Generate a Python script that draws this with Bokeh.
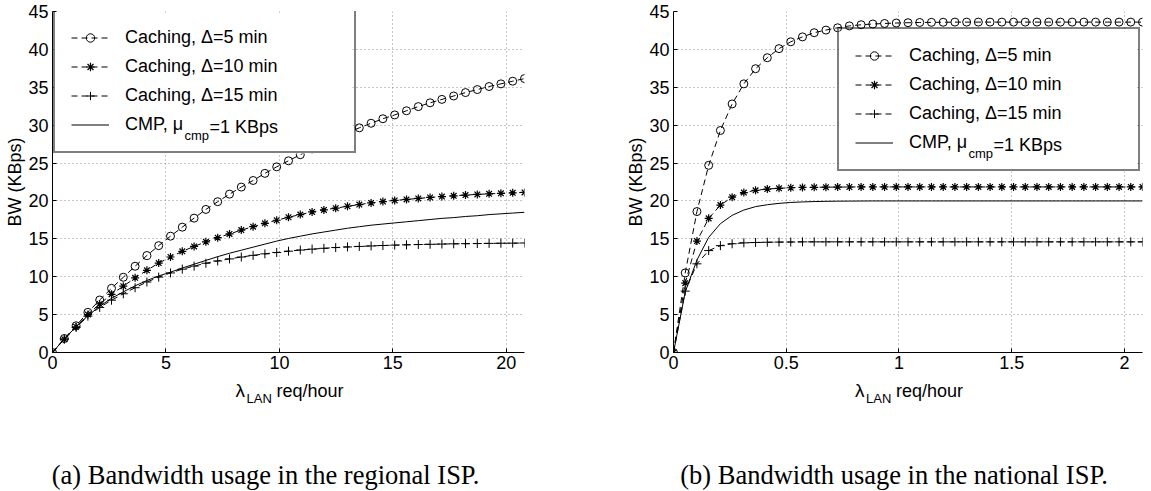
from bokeh.plotting import figure
from bokeh.layouts import row, column
from bokeh.models import (Range1d, FixedTicker, NumeralTickFormatter, Legend,
                          LegendItem, Label, BoxAnnotation)
from bokeh.embed import file_html
from bokeh.resources import INLINE

# ---------------------------------------------------------------- data
# request rate on the LAN (req/hour), regional ISP
lam_regional = [0, 0.52, 1.04, 1.56, 2.08, 2.6, 3.12, 3.64, 4.16, 4.68,
                5.2, 5.72, 6.24, 6.76, 7.28, 7.8, 8.32, 8.84, 9.36, 9.88,
                10.4, 10.92, 11.44, 11.96, 12.48, 13.0, 13.52, 14.04, 14.56, 15.08,
                15.6, 16.12, 16.64, 17.16, 17.68, 18.2, 18.72, 19.24, 19.76, 20.28,
                20.8]
# bandwidth (KBps), regional ISP
bw5_regional = [0, 1.85, 3.53, 5.3, 6.93, 8.47, 9.93, 11.38, 12.8, 14.1,
                15.35, 16.54, 17.73, 18.88, 19.9, 20.9, 21.83, 22.7, 23.64, 24.5,
                25.3, 26.1, 26.85, 27.6, 28.3, 29.0, 29.65, 30.25, 30.85, 31.35,
                31.9, 32.45, 32.95, 33.4, 33.85, 34.3, 34.7, 35.1, 35.45, 35.8,
                36.15]
bw10_regional = [0, 1.76, 3.4, 5.0, 6.4, 7.68, 8.75, 9.85, 10.85, 11.8,
                 12.6, 13.35, 14.0, 14.6, 15.15, 15.65, 16.15, 16.6, 17.05, 17.45,
                 17.85, 18.2, 18.55, 18.82, 19.05, 19.3, 19.52, 19.74, 19.92, 20.07,
                 20.2, 20.33, 20.46, 20.58, 20.68, 20.78, 20.86, 20.94, 21.0, 21.07,
                 21.13]
bw15_regional = [0, 1.76, 3.3, 4.8, 5.95, 6.9, 7.75, 8.55, 9.3, 9.95,
                 10.5, 11.0, 11.4, 11.78, 12.08, 12.35, 12.6, 12.82, 13.02, 13.2,
                 13.37, 13.52, 13.64, 13.75, 13.85, 13.93, 14.0, 14.06, 14.12, 14.17,
                 14.21, 14.25, 14.28, 14.31, 14.34, 14.36, 14.38, 14.4, 14.42, 14.43,
                 14.45]
cmp_regional = [0, 1.8, 3.4, 4.85, 6.1, 7.15, 8.0, 8.8, 9.5, 10.1,
                10.6, 11.15, 11.65, 12.15, 12.65, 13.1, 13.5, 13.9, 14.3, 14.7,
                15.05, 15.35, 15.65, 15.9, 16.15, 16.4, 16.6, 16.8, 16.95, 17.1,
                17.25, 17.4, 17.55, 17.7, 17.8, 17.95, 18.05, 18.2, 18.3, 18.4,
                18.5]

# request rate on the LAN (req/hour), national ISP
lam_national = [0, 0.052, 0.104, 0.156, 0.208, 0.26, 0.312, 0.364, 0.416, 0.468,
                0.52, 0.572, 0.624, 0.676, 0.728, 0.78, 0.832, 0.884, 0.936, 0.988,
                1.04, 1.092, 1.144, 1.196, 1.248, 1.3, 1.352, 1.404, 1.456, 1.508,
                1.56, 1.612, 1.664, 1.716, 1.768, 1.82, 1.872, 1.924, 1.976, 2.028,
                2.08]
# bandwidth (KBps), national ISP
bw5_national = [0, 10.5, 18.6, 24.7, 29.3, 32.8, 35.45, 37.45, 38.9, 40.1,
                41.0, 41.65, 42.2, 42.55, 42.85, 43.1, 43.25, 43.35, 43.42, 43.48,
                43.52, 43.55, 43.57, 43.58, 43.6, 43.6, 43.6, 43.6, 43.6, 43.6,
                43.6, 43.6, 43.6, 43.6, 43.6, 43.6, 43.6, 43.6, 43.6, 43.6,
                43.6]
bw10_national = [0, 9.15, 14.7, 17.7, 19.45, 20.5, 21.1, 21.4, 21.57, 21.67,
                 21.74, 21.78, 21.8, 21.82, 21.83, 21.84, 21.85, 21.85, 21.85, 21.85,
                 21.85, 21.85, 21.85, 21.85, 21.85, 21.85, 21.85, 21.85, 21.85, 21.85,
                 21.85, 21.85, 21.85, 21.85, 21.85, 21.85, 21.85, 21.85, 21.85, 21.85,
                 21.85]
bw15_national = [0, 8.1, 11.7, 13.45, 14.1, 14.35, 14.47, 14.52, 14.55, 14.57,
                 14.58, 14.6, 14.6, 14.6, 14.6, 14.6, 14.6, 14.6, 14.6, 14.6,
                 14.6, 14.6, 14.6, 14.6, 14.6, 14.6, 14.6, 14.6, 14.6, 14.6,
                 14.6, 14.6, 14.6, 14.6, 14.6, 14.6, 14.6, 14.6, 14.6, 14.6,
                 14.6]
cmp_national = [0, 8.0, 12.2, 15.2, 17.0, 18.1, 18.8, 19.25, 19.5, 19.68,
                19.8, 19.87, 19.92, 19.95, 19.97, 19.98, 19.99, 20.0, 20.0, 20.0,
                20.0, 20.0, 20.0, 20.0, 20.0, 20.0, 20.0, 20.0, 20.0, 20.0,
                20.0, 20.0, 20.0, 20.0, 20.0, 20.0, 20.0, 20.0, 20.0, 20.0,
                20.0]

bw_ticks = [0, 5, 10, 15, 20, 25, 30, 35, 40, 45]
regional_ticks = [0, 5, 10, 15, 20]
national_ticks = [0, 0.5, 1, 1.5, 2]

series_labels = ["Caching, \u0394=5 min", "Caching, \u0394=10 min",
                 "Caching, \u0394=15 min", "CMP, \u03bc"]
captions = ["(a) Bandwidth usage in the regional ISP.",
            "(b) Bandwidth usage in the national ISP."]

# ---------------------------------------------------------------- style
SANS = "Liberation Sans"
SERIF = "Liberation Serif"
TOTAL_H = 491
PLOT_H = 378           # chart part (frame + tick labels)
TEXT_H = TOTAL_H - PLOT_H
BORDER_TOP = 11
FRAME_BOTTOM = 352
FRAME_H = FRAME_BOTTOM - BORDER_TOP
Y_END = 45
LEG_PAD = 16
GLYPH_W = 38
ROW_H = 21
ROW_GAP = 8
STANDOFF = 16
LABEL_W = 213


def make_panel(width, left, right, x_end, xticks, lam, bw5, bw10, bw15, cmp,
               leg_x, leg_y):
    p = figure(width=width, height=PLOT_H, x_range=Range1d(0, x_end),
               y_range=Range1d(0, Y_END), output_backend="svg",
               toolbar_location=None, min_border_left=left,
               min_border_right=right, min_border_top=BORDER_TOP,
               min_border_bottom=PLOT_H - FRAME_BOTTOM)
    p.outline_line_color = None
    p.background_fill_color = "white"
    p.border_fill_color = "white"

    p.xaxis.ticker = FixedTicker(ticks=xticks)
    p.yaxis.ticker = FixedTicker(ticks=bw_ticks)
    p.xaxis.formatter = NumeralTickFormatter(format="0.[0]")
    for ax in (p.xaxis[0], p.yaxis[0]):
        ax.axis_line_color = "black"
        ax.axis_line_width = 1
        ax.major_tick_line_color = "black"
        ax.major_tick_in = 4
        ax.major_tick_out = 0
        ax.minor_tick_line_color = None
        ax.major_label_text_font = SANS
        ax.major_label_text_font_size = "18px"
        ax.major_label_text_color = "black"
    p.xaxis.major_label_standoff = 3
    p.yaxis.major_label_standoff = 4
    p.yaxis.axis_label = "BW (KBps)"
    p.yaxis.axis_label_text_font = SANS
    p.yaxis.axis_label_text_font_size = "18px"
    p.yaxis.axis_label_text_font_style = "normal"
    p.yaxis.axis_label_text_color = "black"
    p.yaxis.axis_label_standoff = 0

    for g in (p.xgrid[0], p.ygrid[0]):
        g.grid_line_color = "#8c8c8c"
        g.grid_line_dash = "1 3"
        g.grid_line_width = 1

    dash = "6 4"
    l5 = p.line(lam, bw5, line_color="black", line_width=1, line_dash=dash)
    m5 = p.scatter(lam, bw5, marker="circle", size=8, line_color="black",
                   fill_color=None, line_width=1)
    l10 = p.line(lam, bw10, line_color="black", line_width=1, line_dash=dash)
    m10 = p.scatter(lam, bw10, marker="asterisk", size=8, line_color="black",
                    line_width=1.2)
    l15 = p.line(lam, bw15, line_color="black", line_width=1, line_dash=dash)
    m15 = p.scatter(lam, bw15, marker="cross", size=9, line_color="black",
                    line_width=1)
    lc = p.line(lam, cmp, line_color="black", line_width=1)

    # pixel offsets inside the frame converted to axis units
    frame_w = width - left - right

    def to_x(px):
        return px / frame_w * x_end

    def to_y(py):
        return py / FRAME_H * Y_END

    box_w = 2 * LEG_PAD + GLYPH_W + STANDOFF + LABEL_W
    box_h = 2 * LEG_PAD + 4 * ROW_H + 3 * ROW_GAP

    # white backing of the legend box, so the CMP subscript can sit on it
    p.add_layout(BoxAnnotation(left=to_x(leg_x), right=to_x(leg_x + box_w),
                               bottom=to_y(leg_y), top=to_y(leg_y + box_h),
                               fill_color="white", fill_alpha=1,
                               line_color=None))

    cmp_mid = leg_y + box_h - (LEG_PAD + 3 * (ROW_H + ROW_GAP) + ROW_H / 2)
    text_x = leg_x + LEG_PAD + GLYPH_W + STANDOFF
    p.add_layout(Label(x=to_x(text_x + 61), y=to_y(cmp_mid - 8.7),
                       text="cmp", text_font=SANS,
                       text_font_size="13px", text_color="black",
                       text_baseline="middle", text_align="left"))
    p.add_layout(Label(x=to_x(text_x + 86), y=to_y(cmp_mid),
                       text="=1 KBps", text_font=SANS,
                       text_font_size="18px", text_color="black",
                       text_baseline="middle", text_align="left"))

    items = [LegendItem(label=series_labels[0], renderers=[l5, m5]),
             LegendItem(label=series_labels[1], renderers=[l10, m10]),
             LegendItem(label=series_labels[2], renderers=[l15, m15]),
             LegendItem(label=series_labels[3], renderers=[lc])]
    leg = Legend(items=items, location=(leg_x, leg_y), padding=LEG_PAD,
                 spacing=ROW_GAP, glyph_width=GLYPH_W, glyph_height=ROW_H,
                 label_height=ROW_H, label_width=LABEL_W,
                 label_standoff=STANDOFF, margin=0,
                 border_line_color="black", border_line_width=2,
                 background_fill_color="white", background_fill_alpha=0,
                 label_text_font=SANS, label_text_font_size="18px",
                 label_text_color="black")
    p.add_layout(leg)
    return p


def make_text_panel(width, frame_left, frame_right, caption, caption_cx):
    # strip under each chart: x-axis title and sub-figure caption
    t = figure(width=width, height=TEXT_H, x_range=Range1d(0, width),
               y_range=Range1d(TEXT_H, 0), x_axis_type=None,
               y_axis_type=None, output_backend="svg",
               toolbar_location=None, min_border=0)
    t.outline_line_color = None
    t.background_fill_color = "white"
    t.border_fill_color = "white"
    cx = (frame_left + frame_right) / 2
    base = 390 - PLOT_H
    t.add_layout(Label(x=cx - 53, y=base, text="\u03bb", text_font=SANS,
                       text_font_size="19px", text_color="black",
                       text_align="left", text_baseline="alphabetic"))
    t.add_layout(Label(x=cx - 42, y=base + 8, text="LAN", text_font=SANS,
                       text_font_size="13px", text_color="black",
                       text_align="left", text_baseline="alphabetic"))
    t.add_layout(Label(x=cx - 12, y=base, text="req/hour", text_font=SANS,
                       text_font_size="18px", text_color="black",
                       text_align="left", text_baseline="alphabetic"))
    t.add_layout(Label(x=caption_cx, y=474 - PLOT_H, text=caption,
                       text_font=SERIF, text_font_size="26.5px",
                       text_color="black", text_align="center",
                       text_baseline="middle"))
    return t


p1 = make_panel(576, 52, 52, 20.8, regional_ticks, lam_regional,
                bw5_regional, bw10_regional, bw15_regional, cmp_regional,
                leg_x=1, leg_y=199)
p2 = make_panel(575, 97, 9, 2.08, national_ticks, lam_national,
                bw5_national, bw10_national, bw15_national, cmp_national,
                leg_x=164, leg_y=181)
t1 = make_text_panel(576, 52, 524, captions[0], 265)
t2 = make_text_panel(575, 97, 566, captions[1], 317.5)

layout = column(row(p1, p2), row(t1, t2))
open("out.html", "w").write(file_html(layout, INLINE))
